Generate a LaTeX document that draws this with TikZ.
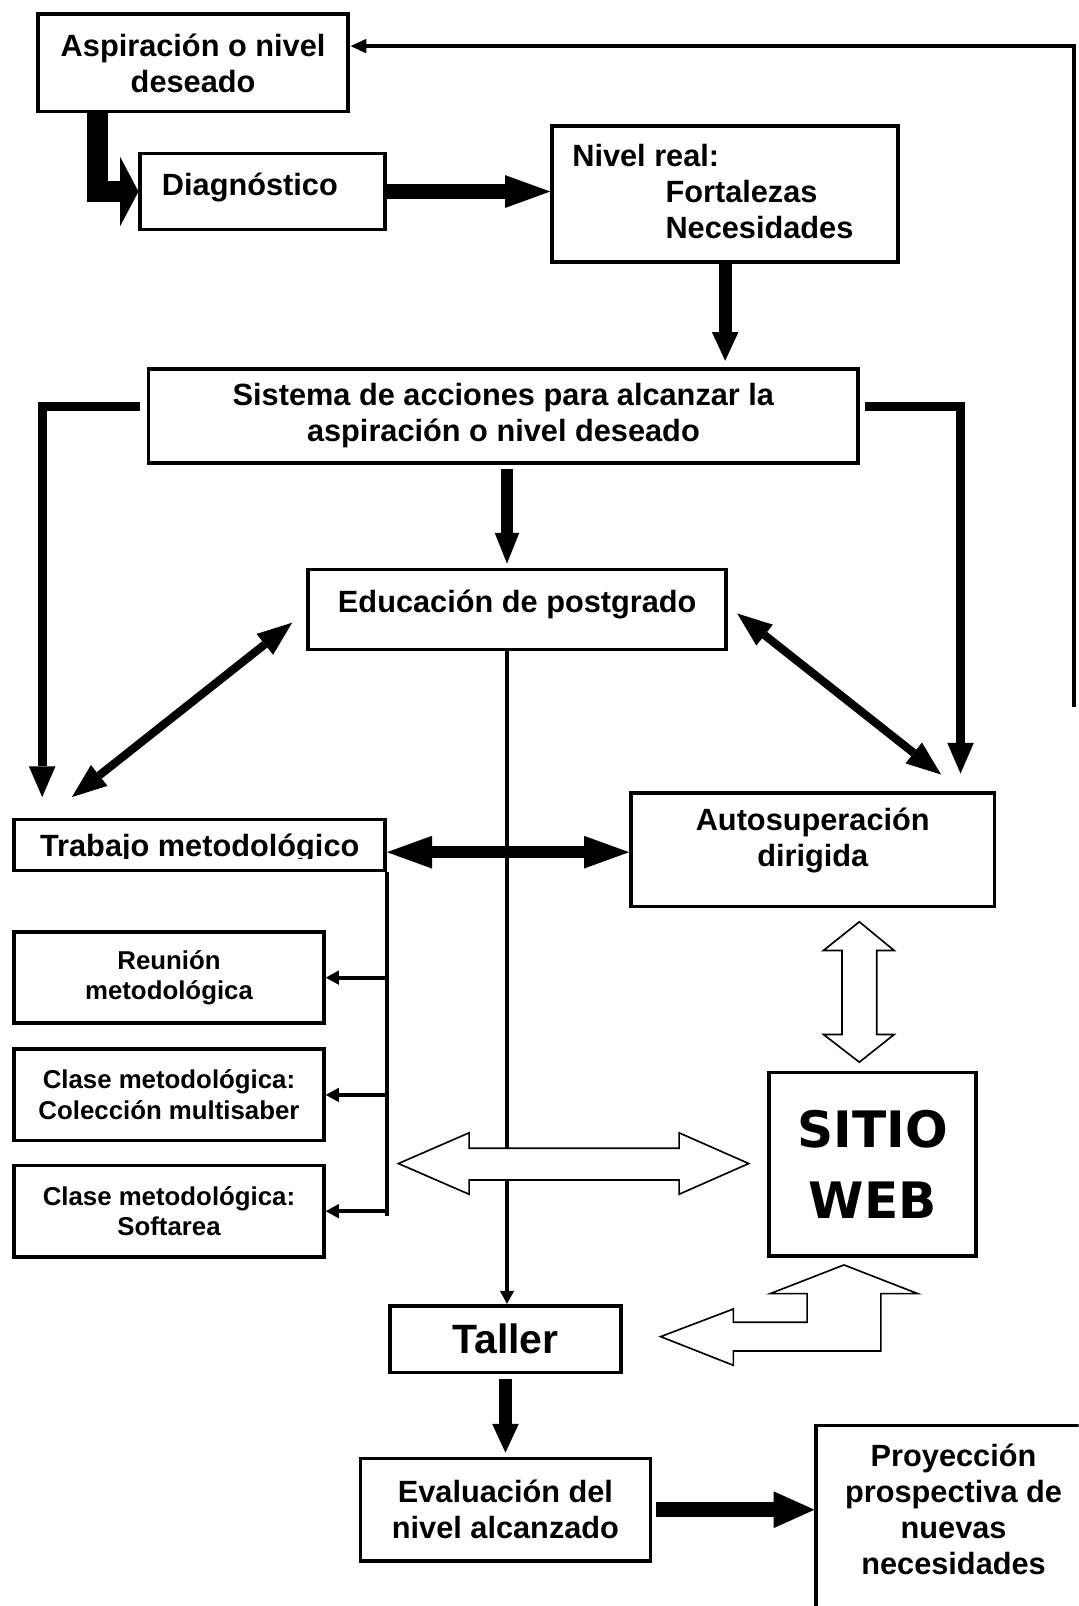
\documentclass[tikz,border=0pt]{standalone}
\usepackage{fontspec}
\setmainfont{Liberation Sans}
\newfontfamily\heavyfont{DejaVu Sans}
\usetikzlibrary{arrows.meta}

\begin{document}
\begin{tikzpicture}[x=0.5pt, y=-0.5pt,
    box/.style={draw, line width=1.8pt, align=center, inner sep=0pt,
      font=\fontsize{15}{17.5}\selectfont\bfseries},
    smallbox/.style={box, minimum width=151pt, minimum height=44.5pt,
      font=\fontsize{12.6}{15}\selectfont\bfseries},
    thin/.style={line width=2pt, -{Triangle[length=6.5pt, width=6.5pt]}},
    hollow/.style={draw, fill=white, line width=0.8pt}]
  \clip (0,0) rectangle (1053,1568);
  \node[box, minimum width=151.5pt, minimum height=47.5pt] (asp) at (188.5,61.5)
    {Aspiración o nivel\\deseado};
  \node[box, minimum width=119.5pt, minimum height=37pt, text depth=7pt] (diag)
    at (256.5,187) {Diagnóstico\hspace*{12.5pt}};
  \node[box, minimum width=169pt, minimum height=66.5pt, align=left, text depth=3pt] (real)
    at (708,189.5)
    {Nivel real:\\\hspace*{45.5pt}Fortalezas\\\hspace*{45.5pt}Necesidades\hspace*{12pt}};
  \node[box, minimum width=346.5pt, minimum height=46pt] (sist) at (491.5,406)
    {Sistema de acciones para alcanzar la\\aspiración o nivel deseado};
  \node[box, minimum width=204pt, minimum height=39pt, text depth=8pt] (educ)
    at (505,595) {Educación de postgrado};
  \node[box, minimum width=181pt, minimum height=25pt,
    path picture={\clip (path picture bounding box.north west) rectangle
      ([yshift=6pt]path picture bounding box.south east);
      \node[font=\fontsize{15}{17.5}\selectfont\bfseries, yshift=-1.5pt]
        at (path picture bounding box.center) {Trabajo metodológico};}] (trab)
    at (195,825) {};
  \node[smallbox] (reun) at (165,954.5) {Reunión\\metodológica};
  \node[smallbox] (col) at (165,1069) {Clase metodológica:\\Colección multisaber};
  \node[smallbox] (soft) at (165,1182.5) {Clase metodológica:\\Softarea};
  \node[box, minimum width=177.5pt, minimum height=55.5pt, text depth=12pt] (auto)
    at (793.5,829.5) {Autosuperación\\dirigida};
  \node[box, minimum width=101pt, minimum height=89.5pt,
    font=\fontsize{24.5}{34.5}\heavyfont\bfseries] (sitio) at (852,1136.5) {SITIO\\WEB};
  \node[box, minimum width=112.5pt, minimum height=32.5pt,
    font=\fontsize{20}{24}\selectfont\bfseries] (taller) at (493.5,1307.5) {Taller};
  \node[box, minimum width=141.5pt, minimum height=50pt] (eval) at (493.5,1474)
    {Evaluación del\\nivel alcanzado};
  \node[box, minimum width=134pt, inner ysep=9pt, anchor=north] (proy) at (931,1390)
    {Proyección\\prospectiva de\\nuevas\\necesidades\\\rule{0pt}{60pt}};
  \coordinate (fb) at (1049,690);

  \draw[line width=10pt, -{Triangle[length=9pt, width=34pt, line width=0pt]}]
    ([xshift=-46.75pt]asp.south) |- (diag.west);
  \draw[line width=7.5pt, -{Triangle[length=22pt, width=16pt, line width=0pt]}]
    (diag.east) -- (diag.east -| real.west);
  \draw[line width=6.5pt, -{Triangle[length=14pt, width=13pt, line width=0pt]},
    shorten >=3pt] (real.south) -- (real.south |- sist.north);
  \draw[line width=6pt, -{Triangle[length=15pt, width=12pt, line width=0pt]}]
    ([xshift=1.75pt, yshift=-2pt]sist.south) -- ([xshift=1.75pt, yshift=2pt]sist.south |- educ.north);
  \draw[line width=4.5pt, -{Triangle[length=15pt, width=13pt, line width=0pt]}]
    ([xshift=-3.5pt, yshift=4.5pt]sist.west) -| ([xshift=14.5pt, yshift=10pt]trab.north west);
  \draw[line width=4.5pt, -{Triangle[length=15pt, width=13pt, line width=0pt]}]
    ([xshift=2.5pt, yshift=4.5pt]sist.east) -| ([xshift=-17.5pt, yshift=8.5pt]auto.north east);
  \draw[line width=4pt, {Triangle[length=17pt, width=13pt, line width=0pt]}-{Triangle[length=17pt, width=13pt, line width=0pt]}]
    ([xshift=-7pt, yshift=-6.5pt]educ.west) -- ([xshift=29pt, yshift=10pt]trab.north west);
  \draw[line width=4pt, {Triangle[length=17pt, width=13pt, line width=0pt]}-{Triangle[length=17pt, width=13pt, line width=0pt]}]
    ([xshift=4.5pt, yshift=-2pt]educ.east) -- ([xshift=-27pt, yshift=8pt]auto.north east);
  \draw[thin] ([xshift=-5pt]educ.south) -- ([xshift=-5pt]educ.south |- taller.north);
  \draw[line width=6pt, {Triangle[length=22pt, width=16pt, line width=0pt]}-{Triangle[length=22pt, width=16pt, line width=0pt]}]
    ([yshift=-3.5pt]trab.east) -- ([yshift=-3.5pt]trab.east -| auto.west);
  \draw[line width=2pt] (trab.south east) -- ([yshift=-2.5pt]trab.south east |- soft.east);
  \foreach \n in {reun,col,soft}
    \draw[thin] (trab.south east |- \n.east) -- (\n.east);
  \draw[line width=2pt, -{Triangle[length=8pt, width=6.5pt]}] (fb) |- ([yshift=8.25pt]asp.east);
  \draw[line width=6pt, -{Triangle[length=14pt, width=13pt, line width=0pt]},
    shorten <=2.5pt, shorten >=2pt] (taller.south) -- (eval.north);
  \draw[line width=7.5pt, -{Triangle[length=20pt, width=18pt, line width=0pt]}]
    ([xshift=2pt]eval.east) -- (eval.east -| proy.west);

  \draw[hollow] (839,900) -- (873,928) -- (856,928) -- (856,1010) -- (873,1010)
    -- (839,1037) -- (804,1010) -- (822,1010) -- (822,928) -- (804,928) -- cycle;
  \draw[hollow] (389,1136) -- (458,1106) -- (458,1121) -- (663,1121) -- (663,1106)
    -- (731,1136) -- (663,1166) -- (663,1152) -- (458,1152) -- (458,1166) -- cycle;
  \draw[hollow] (645,1305) -- (716,1278) -- (716,1291) -- (788,1291) -- (788,1263)
    -- (752,1263) -- (824,1235) -- (896,1263) -- (860,1263) -- (860,1319)
    -- (716,1319) -- (716,1333) -- cycle;
\end{tikzpicture}
\end{document}
